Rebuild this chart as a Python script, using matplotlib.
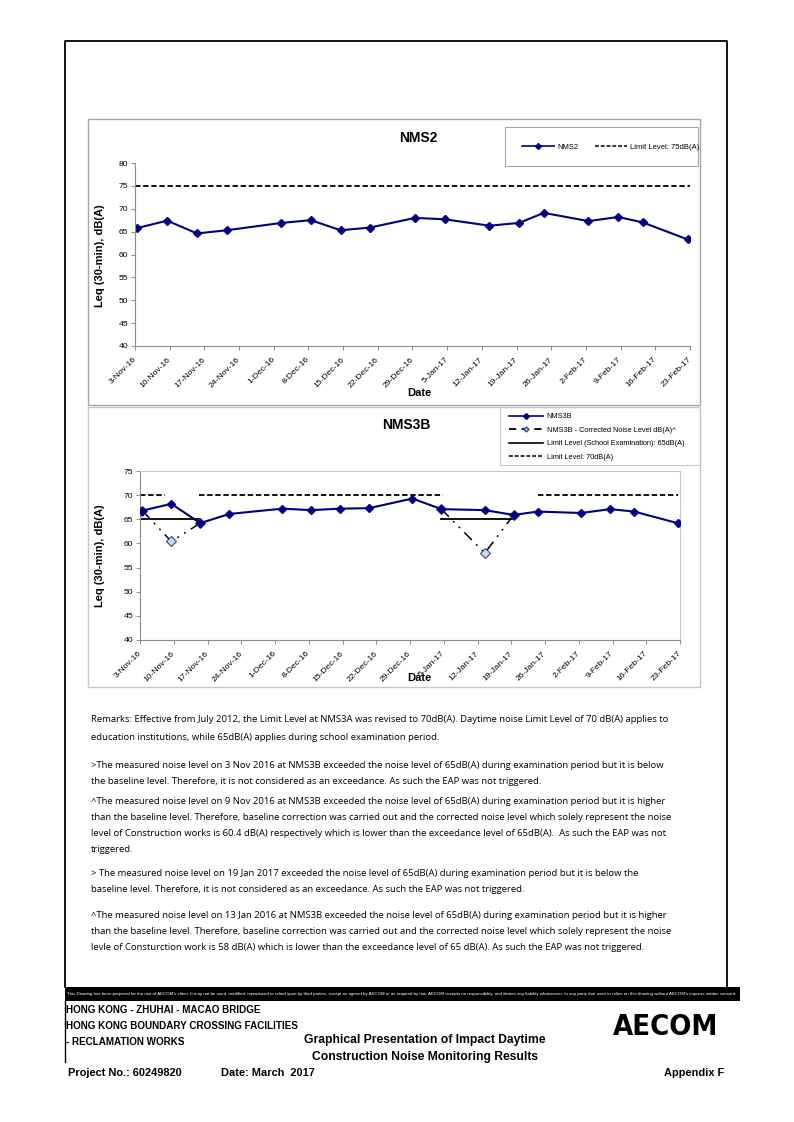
import numpy as np
import pandas as pd
import matplotlib
matplotlib.use('Agg')
import matplotlib.pyplot as plt
from matplotlib.patches import Rectangle
from matplotlib.lines import Line2D

W, H = 794, 1122

# ---- data ----
nms2_dates = ['2016-11-03', '2016-11-09', '2016-11-15', '2016-11-21', '2016-12-02',
              '2016-12-08', '2016-12-14', '2016-12-20', '2016-12-29', '2017-01-04',
              '2017-01-13', '2017-01-19', '2017-01-24', '2017-02-02', '2017-02-08',
              '2017-02-13', '2017-02-22']
nms2_leq = [65.8, 67.4, 64.6, 65.3, 66.9, 67.5, 65.3, 65.9, 68.0, 67.7,
            66.3, 66.9, 69.1, 67.3, 68.2, 67.0, 63.3]

nms3b_dates = nms2_dates
nms3b_leq = [66.8, 68.2, 64.2, 66.1, 67.2, 66.9, 67.2, 67.3, 69.3, 67.1,
             66.9, 65.9, 66.6, 66.3, 67.1, 66.6, 64.2]
nms3b_corrected = [66.8, 60.4, 64.2, np.nan, np.nan, np.nan, np.nan, np.nan, np.nan, 67.1,
                   58.0, 65.9, np.nan, np.nan, np.nan, np.nan, np.nan]

limit_nms2 = 75
limit_70 = 70
limit70_start = ['2016-11-03 00:00', '2016-11-15 06:00', '2017-01-24 12:00']
limit70_end = ['2016-11-08 06:00', '2017-01-04 18:00', '2017-02-22 12:00']
limit_exam = 65
exam_start = ['2016-11-03 00:00', '2017-01-04 12:00']
exam_end = ['2016-11-15 12:00', '2017-01-19 12:00']

tick_dates = pd.date_range('2016-11-03', '2017-02-23', freq='7D')
tick_labels = [f'{d.day}-{d.strftime("%b")}-{d.strftime("%y")}' for d in tick_dates]

MEAS_TIME = pd.Timedelta(hours=12)  # daytime measurement

remarks = [
    'Remarks: Effective from July 2012, the Limit Level at NMS3A was revised to 70dB(A). Daytime noise Limit Level of 70 dB(A) applies to',
    'education institutions, while 65dB(A) applies during school examination period.',
    None,
    '>The measured noise level on 3 Nov 2016 at NMS3B exceeded the noise level of 65dB(A) during examination period but it is below',
    'the baseline level. Therefore, it is not considered as an exceedance. As such the EAP was not triggered.',
    None,
    '^The measured noise level on 9 Nov 2016 at NMS3B exceeded the noise level of 65dB(A) during examination period but it is higher',
    'than the baseline level. Therefore, baseline correction was carried out and the corrected noise level which solely represent the noise',
    'level of Construction works is 60.4 dB(A) respectively which is lower than the exceedance level of 65dB(A).  As such the EAP was not',
    'triggered.',
    None,
    '> The measured noise level on 19 Jan 2017 exceeded the noise level of 65dB(A) during examination period but it is below the',
    'baseline level. Therefore, it is not considered as an exceedance. As such the EAP was not triggered.',
    None,
    '^The measured noise level on 13 Jan 2016 at NMS3B exceeded the noise level of 65dB(A) during examination period but it is higher',
    'than the baseline level. Therefore, baseline correction was carried out and the corrected noise level which solely represent the noise',
    'levle of Consturction work is 58 dB(A) which is lower than the exceedance level of 65 dB(A). As such the EAP was not triggered.',
]
remark_y = [720, 737, None, 765, 781, None, 801, 818, 834, 850, None, 873, 889, None, 915, 931, 947]

disclaimer = ("This Drawing has been prepared for the use of AECOM's client. It may not be used, modified, reproduced or relied upon by third "
              "parties, except as agreed by AECOM or as required by law. AECOM accepts no responsibility, and denies any liability whatsoever, "
              "to any party that uses or relies on this drawing without AECOM's express written consent.")

plt.rcParams['font.family'] = ['Liberation Sans', 'DejaVu Sans']

NAVY = '#000080'
GRID = '#8c8c8c'


def box(x0, y0, x1, y1):
    return [x0 / W, 1 - y1 / H, (x1 - x0) / W, (y1 - y0) / H]


def fxy(x, y):
    return x / W, 1 - y / H


def frame(fig, x0, y0, x1, y1, color, lw):
    fig.patches.append(Rectangle((x0 / W, 1 - y1 / H), (x1 - x0) / W, (y1 - y0) / H,
                                 transform=fig.transFigure, fill=False,
                                 edgecolor=color, linewidth=lw))


def style_axes(ax, ymin, ymax, box_on):
    ax.set_ylim(ymin, ymax)
    ax.set_yticks(np.arange(ymin, ymax + 1, 5))
    ax.set_xlim(tick_dates[0], tick_dates[-1])
    ax.set_xticks(tick_dates)
    ax.set_xticklabels(tick_labels, rotation=45, ha='right', va='center',
                       rotation_mode='anchor', fontsize=6.1)
    ax.tick_params(axis='both', length=3, width=0.7, color=GRID, labelsize=6.1, pad=2)
    ax.tick_params(axis='x', pad=6)
    for s in ['left', 'bottom']:
        ax.spines[s].set_color(GRID)
        ax.spines[s].set_linewidth(0.8)
    for s in ['top', 'right']:
        ax.spines[s].set_visible(box_on)
        ax.spines[s].set_color('#c8c8c8')
        ax.spines[s].set_linewidth(0.8)


fig = plt.figure(figsize=(W / 100, H / 100), dpi=100)

# page frame
fig.add_artist(Line2D([65 / W, 65 / W, 727 / W, 727 / W], [1 - 987 / H, 1 - 41 / H, 1 - 41 / H, 1 - 987 / H],
                      transform=fig.transFigure, color='black', lw=1.3))
fig.add_artist(Line2D([65 / W, 65 / W], [1 - 1001 / H, 1 - 1062 / H],
                      transform=fig.transFigure, color='black', lw=1.0))

# chart frames
frame(fig, 88, 119, 700, 405, '#a6a6a6', 1.0)
frame(fig, 88, 407, 700, 687, '#c8c8c8', 1.0)

# ---- chart 1: NMS2 ----
t2 = pd.to_datetime(nms2_dates) + MEAS_TIME
ax1 = fig.add_axes(box(135, 163, 690, 346))
ax1.axhline(limit_nms2, color='black', lw=1.3, ls=(0, (3, 1.5)))
ax1.plot(t2, nms2_leq, color=NAVY, lw=1.5, marker='D', ms=4.5, mfc=NAVY, mec=NAVY)
style_axes(ax1, 40, 80, False)
fig.text(*fxy(418, 138), 'NMS2', fontsize=10, fontweight='bold', ha='center', va='center')
fig.text(*fxy(419, 393), 'Date', fontsize=8, fontweight='bold', ha='center', va='center')
fig.text(*fxy(100, 256), 'Leq (30-min), dB(A)', fontsize=8, fontweight='bold',
         ha='center', va='center', rotation=90)

frame(fig, 505, 127, 698, 166, '#a6a6a6', 0.8)
h1 = [Line2D([], [], color=NAVY, lw=1.2, marker='D', ms=3, mfc=NAVY, mec=NAVY),
      Line2D([], [], color='black', lw=1.1, ls=(0, (2.5, 1.3)))]
fig.legend(h1, ['NMS2', 'Limit Level: 75dB(A)'], ncol=2, loc='center left',
           bbox_to_anchor=fxy(518, 147), frameon=False, fontsize=5.5,
           handlelength=4.2, handletextpad=0.4, columnspacing=2.2, borderpad=0)

# ---- chart 2: NMS3B ----
t3 = pd.to_datetime(nms3b_dates) + MEAS_TIME
ax2 = fig.add_axes(box(140, 471, 680, 640))
for s, e in zip(limit70_start, limit70_end):
    ax2.plot(pd.to_datetime([s, e]), [limit_70, limit_70], color='black', lw=1.3, ls=(0, (3, 1.5)))
for s, e in zip(exam_start, exam_end):
    ax2.plot(pd.to_datetime([s, e]), [limit_exam, limit_exam], color='black', lw=1.3)
ax2.plot(t3, nms3b_corrected, color='black', lw=1.1, ls=(0, (7, 4, 1.2, 4, 1.2, 4)),
         marker='D', ms=5, mfc='#c6d9ee', mec='#2f4f7f', mew=0.8, zorder=3)
ax2.plot(t3, nms3b_leq, color=NAVY, lw=1.5, marker='D', ms=4.5, mfc=NAVY, mec=NAVY, zorder=4)
style_axes(ax2, 40, 75, True)
fig.text(*fxy(406, 425), 'NMS3B', fontsize=10, fontweight='bold', ha='center', va='center')
fig.text(*fxy(419, 678), 'Date', fontsize=8, fontweight='bold', ha='center', va='center')
fig.text(*fxy(100, 556), 'Leq (30-min), dB(A)', fontsize=8, fontweight='bold',
         ha='center', va='center', rotation=90)

frame(fig, 500, 407, 700, 465, '#c8c8c8', 0.8)
h2 = [Line2D([], [], color=NAVY, lw=1.2, marker='D', ms=3, mfc=NAVY, mec=NAVY),
      Line2D([], [], color='black', lw=1.3, ls=(0, (4, 3)), marker='D', ms=2.5,
             mfc='#c6d9ee', mec='#2f4f7f'),
      Line2D([], [], color='black', lw=1.2),
      Line2D([], [], color='black', lw=1.1, ls=(0, (2.5, 1.3)))]
fig.legend(h2, ['NMS3B', 'NMS3B - Corrected Noise Level dB(A)^',
                'Limit Level (School Examination): 65dB(A)', 'Limit Level: 70dB(A)'],
           loc='upper left', bbox_to_anchor=fxy(504, 408), frameon=False, fontsize=5.3,
           handlelength=4.6, handletextpad=0.5, labelspacing=0.85, borderpad=0.2)

# ---- remarks ----
for line, y in zip(remarks, remark_y):
    if line is None:
        continue
    fig.text(*fxy(91, y), line, fontsize=6.8, ha='left', va='center',
             family=['Open Sans', 'DejaVu Sans'])

# ---- footer ----
bar = Rectangle((65 / W, 1 - 1001 / H), (740 - 65) / W, 14 / H, transform=fig.transFigure,
                facecolor='black', edgecolor='none')
fig.patches.append(bar)
fig.text(*fxy(67, 994), disclaimer, fontsize=3.15, color='white', ha='left', va='center')

for txt, y in zip(['HONG KONG - ZHUHAI - MACAO BRIDGE', 'HONG KONG BOUNDARY CROSSING FACILITIES',
                   '- RECLAMATION WORKS'], [1010, 1026, 1042]):
    fig.text(*fxy(66, y), txt, fontsize=7.1, fontweight='bold', ha='left', va='center')
fig.text(*fxy(425, 1040), 'Graphical Presentation of Impact Daytime', fontsize=8.7,
         fontweight='bold', ha='center', va='center')
fig.text(*fxy(425, 1057), 'Construction Noise Monitoring Results', fontsize=8.7,
         fontweight='bold', ha='center', va='center')
fig.text(*fxy(68, 1073), 'Project No.: 60249820', fontsize=7.9, fontweight='bold', ha='left', va='center')
fig.text(*fxy(221, 1073), 'Date: March  2017', fontsize=7.9, fontweight='bold', ha='left', va='center')
fig.text(*fxy(724, 1073), 'Appendix F', fontsize=7.9, fontweight='bold', ha='right', va='center')
fig.text(*fxy(666, 1027), 'AECOM', fontsize=21, fontweight='heavy', fontstretch='condensed',
         ha='center', va='center', family=['DejaVu Sans'])

fig.savefig('out.png', dpi=100)
